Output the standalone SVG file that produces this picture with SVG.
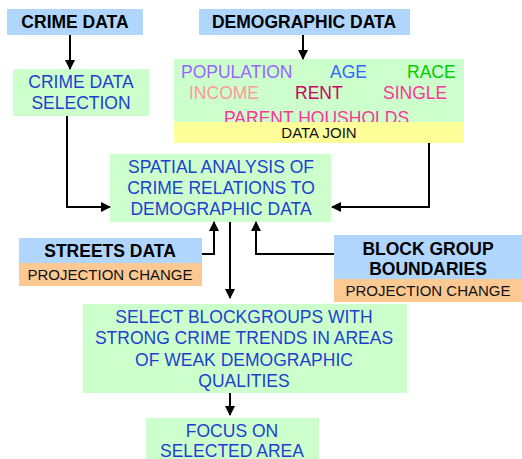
<svg xmlns="http://www.w3.org/2000/svg" width="522" height="459" viewBox="0 0 522 459">
  <style>
    .hdr { fill: #b0d6fd; }
    .grn { fill: #ccffcc; }
    .ylw { fill: #ffff99; }
    .org { fill: #fcc993; }
    text { font-family: "Liberation Sans", Arial, sans-serif; font-size: 17.5px; text-anchor: middle; }
    .bold { font-weight: bold; fill: #000; }
    .blue { fill: #1c3fd0; }
    .small { font-size: 15px; fill: #111; }
    .dem { text-anchor: start; }
    .conn { fill: none; stroke: #000; stroke-width: 2; }
  </style>
  <defs>
    <marker id="arrow" markerWidth="10" markerHeight="10" refX="9" refY="5" orient="auto" markerUnits="userSpaceOnUse">
      <path d="M0,0 L10,5 L0,10 Z" fill="#000"/>
    </marker>
  </defs>
  <rect width="522" height="459" fill="#fff"/>

  <g id="crime-data">
    <rect class="hdr" x="7" y="9" width="136" height="26"/>
    <text class="bold" x="75" y="28">CRIME DATA</text>
  </g>

  <g id="demographic-data">
    <rect class="hdr" x="199" y="9" width="211" height="26"/>
    <text class="bold" x="304" y="28">DEMOGRAPHIC DATA</text>
  </g>

  <g id="crime-selection">
    <rect class="grn" x="13" y="69" width="136" height="47"/>
    <text class="blue" x="81" y="88">CRIME DATA</text>
    <text class="blue" x="81" y="109">SELECTION</text>
  </g>

  <g id="demographic-attributes">
    <rect class="grn" x="174" y="59" width="290" height="63"/>
    <text class="dem" x="181" y="78" fill="#9966ff">POPULATION</text>
    <text class="dem" x="330" y="78" fill="#3366ff">AGE</text>
    <text class="dem" x="407" y="78" fill="#00cc00">RACE</text>
    <text class="dem" x="189" y="99" fill="#ff9999">INCOME</text>
    <text class="dem" x="295" y="99" fill="#cc0066">RENT</text>
    <text class="dem" x="383" y="99" fill="#ff3399">SINGLE</text>
    <text class="dem" x="224" y="123.5" fill="#ff3399">PARENT HOUSHOLDS</text>
    <!-- join bar sits over the last attribute line -->
    <rect class="ylw" x="174" y="122" width="290" height="21"/>
    <text class="small" x="319" y="138">DATA JOIN</text>
  </g>

  <g id="spatial-analysis">
    <rect class="grn" x="110" y="154" width="221" height="68"/>
    <text class="blue" x="221" y="173">SPATIAL ANALYSIS OF</text>
    <text class="blue" x="221" y="194">CRIME RELATIONS TO</text>
    <text class="blue" x="221" y="215">DEMOGRAPHIC DATA</text>
  </g>

  <g id="streets-data">
    <rect class="hdr" x="19" y="238" width="183" height="25"/>
    <text class="bold" x="110" y="257">STREETS DATA</text>
    <rect class="org" x="19" y="263" width="183" height="23"/>
    <text class="small" x="110" y="280">PROJECTION CHANGE</text>
  </g>

  <g id="block-group-boundaries">
    <rect class="hdr" x="334" y="235" width="188" height="44"/>
    <text class="bold" x="428" y="255">BLOCK GROUP</text>
    <text class="bold" x="428" y="275">BOUNDARIES</text>
    <rect class="org" x="334" y="279" width="188" height="23"/>
    <text class="small" x="428" y="296">PROJECTION CHANGE</text>
  </g>

  <g id="select-blockgroups">
    <rect class="grn" x="83" y="304" width="324" height="89"/>
    <text class="blue" x="244" y="323">SELECT BLOCKGROUPS WITH</text>
    <text class="blue" x="244" y="344">STRONG CRIME TRENDS IN AREAS</text>
    <text class="blue" x="244" y="366">OF WEAK DEMOGRAPHIC</text>
    <text class="blue" x="244" y="387">QUALITIES</text>
  </g>

  <g id="focus-area">
    <rect class="grn" x="146" y="418" width="173" height="45"/>
    <text class="blue" x="232" y="437">FOCUS ON</text>
    <text class="blue" x="232" y="457">SELECTED AREA</text>
  </g>

  <g id="connectors">
    <path class="conn" d="M70,35 V69" marker-end="url(#arrow)"/>
    <path class="conn" d="M303,35 V59" marker-end="url(#arrow)"/>
    <path class="conn" d="M67,116 V207 H110" marker-end="url(#arrow)"/>
    <path class="conn" d="M429,143 V207 H332" marker-end="url(#arrow)"/>
    <path class="conn" d="M202,254 H214 V222" marker-end="url(#arrow)"/>
    <path class="conn" d="M334,254 H256 V222" marker-end="url(#arrow)"/>
    <path class="conn" d="M230,222 V298" marker-end="url(#arrow)"/>
    <path class="conn" d="M230,393 V415" marker-end="url(#arrow)"/>
  </g>
</svg>
